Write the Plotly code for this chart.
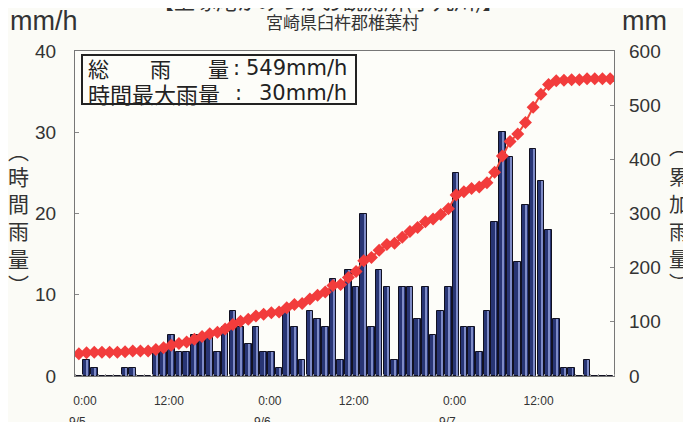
import plotly.graph_objects as go

# hourly slots (index 0..69), time-axis tick labels
slots = list(range(70))
hourly_rain = [0, 2, 1, 0, 0, 0, 1, 1, 0, 0,
               3, 3, 5, 3, 3, 5, 5, 5, 3, 6,
               8, 6, 4, 6, 3, 3, 1, 8, 6, 2,
               8, 7, 6, 12, 2, 13, 11, 20, 6, 13,
               11, 2, 11, 11, 7, 11, 5, 8, 11, 25,
               6, 6, 3, 8, 19, 30, 27, 14, 21, 28,
               24, 18, 7, 1, 1, 0, 2, 0, 0, 0]
cumulative_rain = [41, 43, 44, 44, 44, 44, 45, 46, 46, 46,
                   49, 52, 57, 60, 63, 68, 73, 78, 81, 87,
                   95, 101, 105, 111, 114, 117, 118, 126, 132, 134,
                   142, 149, 155, 167, 169, 182, 193, 213, 219, 232,
                   243, 245, 256, 267, 274, 285, 290, 298, 309, 334,
                   340, 346, 349, 357, 376, 406, 433, 447, 468, 496,
                   520, 538, 545, 546, 547, 547, 549, 549, 549, 549]
tick_positions = [0.8, 11.7, 24.8, 35.7, 48.8, 59.7]
tick_labels = ["0:00", "12:00", "0:00", "12:00", "0:00", "12:00"]
date_labels = ["9/5", "9/6", "9/7"]
date_px = [77, 263, 447]

# the page body adds an 8px margin, so the figure is drawn 8px smaller/offset
OFF = 8
W, H = 691 - OFF, 422 - OFF
# plot area in reference-picture pixels
L, R, T, B = 75, 614, 51, 376


def px(x):
    return (x - L) / (R - L)


def py(y):
    return (B - y) / (B - T)


CJK = "Noto Sans CJK JP, Liberation Sans, sans-serif"
LAT = "Liberation Sans, Noto Sans CJK JP, sans-serif"
WIDE = "DejaVu Sans, Noto Sans CJK JP, sans-serif"
TXT = "#333333"

fig = go.Figure()
fig.add_trace(go.Bar(
    x=slots, y=hourly_rain, width=0.86, offset=-0.43,
    marker=dict(color="#283574", line=dict(color="#111122", width=1)),
    showlegend=False,
))
fig.add_trace(go.Bar(
    x=slots, y=hourly_rain, width=0.12, offset=0.05,
    marker=dict(color="#8e9bd6", line=dict(width=0)), opacity=0.85,
    showlegend=False,
))
fig.add_trace(go.Scatter(
    x=slots, y=cumulative_rain, yaxis="y2", mode="lines+markers",
    line=dict(color="#f04a3c", width=2),
    marker=dict(symbol="diamond", size=10, color="#f23c3c"),
    showlegend=False,
))

annotations = []


def ann(text, x, y, size, font=CJK, xanchor="center", yanchor="middle", color=TXT):
    annotations.append(dict(text=text, x=px(x), y=py(y), xref="paper", yref="paper",
                            showarrow=False, xanchor=xanchor, yanchor=yanchor,
                            font=dict(family=font, size=size, color=color)))


ann("【上塚尾かみつかお観測所(小丸川)】", 328, 0, 21)
ann("宮崎県臼杵郡椎葉村", 342, 21, 17)
ann("mm/h", 8, 21, 27, font=LAT, xanchor="left")
ann("mm", 644, 21, 27, font=LAT)
# left vertical title
for ch, y in zip(["︵", "時", "間", "雨", "量", "︶"], [150, 176, 203, 230, 258, 284]):
    ann(ch, 19, y, 21)
# right vertical title
for ch, y in zip(["︵", "累", "加", "雨", "量", "︶"], [146, 176, 204, 231, 258, 282]):
    ann(ch, 679, y, 20)
# info box
C = "#222222"
ann("総", 86, 68, 21, xanchor="left", color=C)
ann("雨", 148, 68, 21, xanchor="left", color=C)
ann("量", 206, 68, 21, xanchor="left", color=C)
ann(":", 231, 68, 21, font=WIDE, xanchor="left", color=C)
ann("549mm/h", 349, 68, 21, font=WIDE, xanchor="right", color=C)
ann("時間最大雨量", 86, 93, 22, xanchor="left", color=C)
ann(":", 233, 93, 21, font=WIDE, xanchor="left", color=C)
ann("30mm/h", 349, 93, 21, font=WIDE, xanchor="right", color=C)
for d, x in zip(date_labels, date_px):
    ann(d, x, 422, 12, font=LAT)

fig.update_layout(
    width=W, height=H,
    margin=dict(l=L - OFF, r=W - (R - OFF), t=T - OFF, b=H - (B - OFF), pad=0),
    paper_bgcolor="#fbfbf6", plot_bgcolor="#fdfdf9",
    barmode="overlay", bargap=0,
    font=dict(family=LAT, color=TXT),
    annotations=annotations,
    shapes=[dict(type="rect", xref="paper", yref="paper",
                 x0=px(82), x1=px(356), y0=py(104), y1=py(55),
                 line=dict(color="#222222", width=2), fillcolor="#fdfdf9", layer="above")],
    xaxis=dict(range=[-0.5, 69.5], tickmode="array", tickvals=tick_positions,
               ticktext=tick_labels, ticks="", showgrid=False, zeroline=False,
               showline=True, linecolor="#777777", linewidth=1, mirror=True,
               tickfont=dict(size=12, color=TXT, family=LAT), ticklabelstandoff=14,
               minor=dict(ticks="inside", tickmode="linear", tick0=-0.5, dtick=1,
                          ticklen=2, tickcolor="#999999")),
    yaxis=dict(range=[0, 40], dtick=10, ticks="inside", ticklen=4, tickcolor="#888888",
               showgrid=False, zeroline=False, showline=True, linecolor="#777777",
               linewidth=1, mirror=True, tickfont=dict(size=19, color=TXT, family=LAT),
               ticklabelstandoff=14),
    yaxis2=dict(range=[0, 600], dtick=100, overlaying="y", side="right", ticks="inside",
                ticklen=4, tickcolor="#888888", showgrid=False, zeroline=False,
                showline=False, tickfont=dict(size=19, color=TXT, family=LAT),
                ticklabelstandoff=14),
)

fig.write_html("out.html")
